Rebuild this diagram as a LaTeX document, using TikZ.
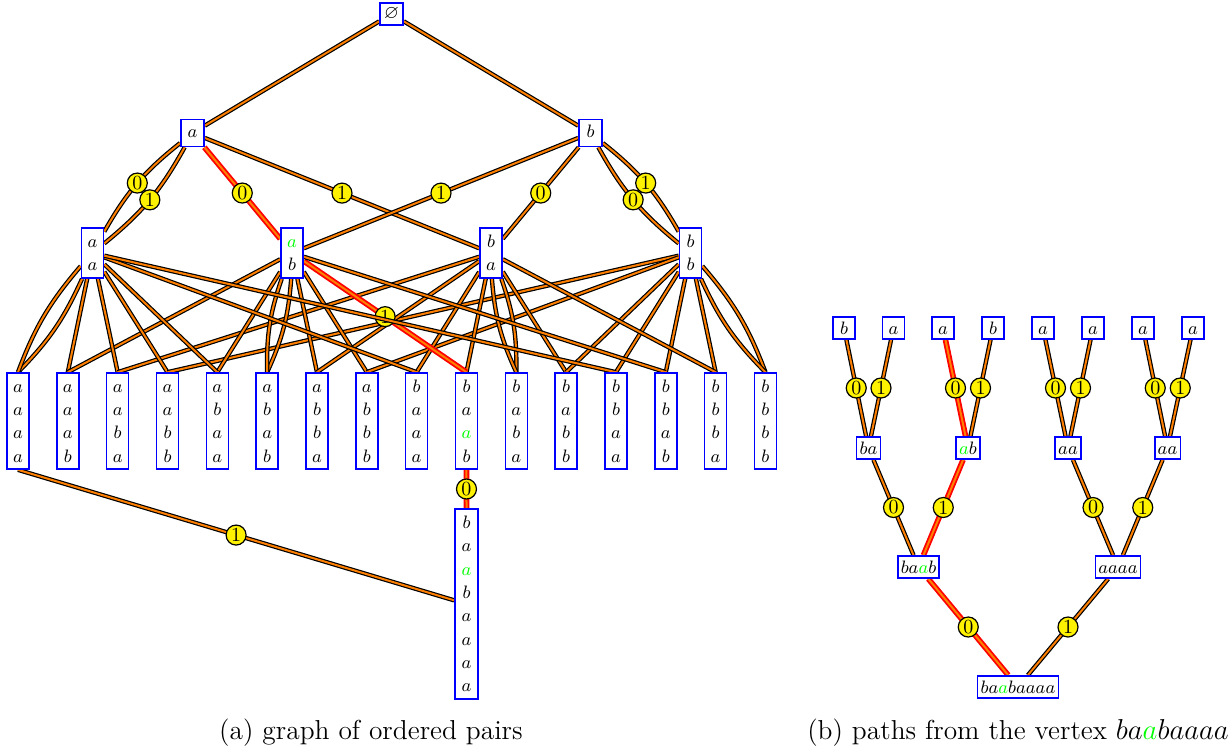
\documentclass[tikz,border=0pt]{standalone}
\usepackage{amssymb}
\pgfdeclarelayer{bg}
\pgfsetlayers{bg,main}
\newcommand\stL[1]{$\vphantom{b}#1$}
\newcommand\gA{\textcolor{green}{a}}
\begin{document}
\begin{tikzpicture}[x=0.5pt,y=-0.5pt,
  vx/.style={draw=blue, line width=0.8pt, fill=white, inner sep=0pt, minimum width=11pt,
    font=\fontsize{9.5}{11.67}\selectfont, align=center},
  rv/.style={draw=blue, line width=0.8pt, fill=white, inner xsep=1.5pt, inner ysep=0pt,
    minimum width=11pt, minimum height=11pt, text height=6.8pt, text depth=0pt,
    font=\fontsize{9.2}{11}\selectfont},
  ed/.style={draw=black, line width=0.6pt, double=orange, double distance=1pt},
  redge/.style={draw=red, line width=0.9pt, double=orange, double distance=1pt},
  lab/.style={circle, draw=black, fill=yellow, line width=0.6pt, inner sep=0pt,
    minimum size=10pt, font=\fontsize{10}{12}\selectfont},
  captxt/.style={anchor=base, font=\fontsize{13.7}{16}\selectfont}]
\useasboundingbox (0,0) rectangle (1232,751);
% ---------- (a) ----------
\node[vx, minimum height=11pt, minimum width=11.5pt] (e) at (391.5,14) {$\varnothing$};
\node[vx, minimum height=13.5pt, minimum width=11.5pt, text height=4.7pt, text depth=0pt] (a) at (192.5,133) {$a$};
\node[vx, minimum height=13.5pt, minimum width=11.5pt, text height=4.7pt, text depth=0pt] (b) at (590.5,133) {$b$};
\node[vx, minimum height=25pt] (aa) at (92.5,253) {\stL a\\\stL a};
\node[vx, minimum height=25pt] (ab) at (292,253) {\stL{\color{green}a}\\\stL b};
\node[vx, minimum height=25pt] (ba) at (491,253) {\stL b\\\stL a};
\node[vx, minimum height=25pt] (bb) at (690.5,253) {\stL b\\\stL b};
\tikzset{l3/.style={vx, minimum height=48pt}}
\node[l3] (aaaa) at (18,421) {\stL a\\\stL a\\\stL a\\\stL a};
\node[l3] (aaab) at (67.83,421) {\stL a\\\stL a\\\stL a\\\stL b};
\node[l3] (aaba) at (117.66,421) {\stL a\\\stL a\\\stL b\\\stL a};
\node[l3] (aabb) at (167.49,421) {\stL a\\\stL a\\\stL b\\\stL b};
\node[l3] (abaa) at (217.32,421) {\stL a\\\stL b\\\stL a\\\stL a};
\node[l3] (abab) at (267.15,421) {\stL a\\\stL b\\\stL a\\\stL b};
\node[l3] (abba) at (316.98,421) {\stL a\\\stL b\\\stL b\\\stL a};
\node[l3] (abbb) at (366.81,421) {\stL a\\\stL b\\\stL b\\\stL b};
\node[l3] (baaa) at (416.64,421) {\stL b\\\stL a\\\stL a\\\stL a};
\node[l3] (baab) at (466.47,421) {\stL b\\\stL a\\\stL{\color{green}a}\\\stL b};
\node[l3] (baba) at (516.3,421) {\stL b\\\stL a\\\stL b\\\stL a};
\node[l3] (babb) at (566.13,421) {\stL b\\\stL a\\\stL b\\\stL b};
\node[l3] (bbaa) at (615.96,421) {\stL b\\\stL b\\\stL a\\\stL a};
\node[l3] (bbab) at (665.79,421) {\stL b\\\stL b\\\stL a\\\stL b};
\node[l3] (bbba) at (715.62,421) {\stL b\\\stL b\\\stL b\\\stL a};
\node[l3] (bbbb) at (765.45,421) {\stL b\\\stL b\\\stL b\\\stL b};
\node[vx, minimum height=95pt, minimum width=11.5pt] (L4) at (466.5,604)
  {\stL b\\\stL a\\\stL{\color{green}a}\\\stL b\\\stL a\\\stL a\\\stL a\\\stL a};
\node[captxt] (capa) at (371,739) {(a) graph of ordered pairs};
% ---------- (b) ----------
\node[rv] (t1) at (844,328) {$b$};
\node[rv] (t2) at (893.5,328) {$a$};
\node[rv] (t3) at (943,328) {$a$};
\node[rv] (t4) at (993,328) {$b$};
\node[rv] (t5) at (1043,328) {$a$};
\node[rv] (t6) at (1093,328) {$a$};
\node[rv] (t7) at (1143,328) {$a$};
\node[rv] (t8) at (1193,328) {$a$};
\node[rv] (r1) at (868.5,448) {$ba$};
\node[rv] (r2) at (968,448) {$\gA b$};
\node[rv] (r3) at (1068,448) {$aa$};
\node[rv] (r4) at (1167.5,448) {$aa$};
\node[rv] (s1) at (918.5,567) {$ba\gA b$};
\node[rv] (s2) at (1118,567) {$aaaa$};
\node[rv] (root) at (1018,687) {$ba\gA baaaa$};
\node[captxt] (capb) at (1018,739) {(b) paths from the vertex $ba\gA baaaa$};
% ---------- edges ----------
\begin{pgfonlayer}{bg}
\draw[ed] (e) -- (a);
\draw[ed] (e) -- (b);
\draw[ed] (a) to[bend right=11] node[lab]{0} (aa);
\draw[ed] (a) to[bend left=11] node[lab]{1} (aa);
\draw[redge] (a) -- node[lab]{0} (ab);
\draw[ed] (a) -- node[lab]{1} (ba);
\draw[ed] (b) -- node[lab]{1} (ab);
\draw[ed] (b) -- node[lab]{0} (ba);
\draw[ed] (b) to[bend left=11] node[lab]{1} (bb);
\draw[ed] (b) to[bend right=11] node[lab]{0} (bb);
% level 2 -> level 3
\draw[ed] (aa) to[bend left=10] (aaaa.north);
\draw[ed] (aa) to[bend right=10] (aaaa.north);
\foreach \u/\v in {aa/ab,aa/ba,aa/bb,ab/aa}
  {\draw[ed] (\u) -- (\u\v.north); \draw[ed] (\v) -- (\u\v.north);}
\draw[ed] (ab) to[bend left=10] (abab.north);
\draw[ed] (ab) to[bend right=10] (abab.north);
\foreach \u/\v in {ab/ba,ab/bb,ba/aa}
  {\draw[ed] (\u) -- (\u\v.north); \draw[ed] (\v) -- (\u\v.north);}
\draw[ed] (ba) -- (baab.north);
\draw[redge] (ab) -- node[lab]{1} (baab.north);
\draw[ed] (ba) to[bend left=10] (baba.north);
\draw[ed] (ba) to[bend right=10] (baba.north);
\foreach \u/\v in {ba/bb,bb/aa,bb/ab,bb/ba}
  {\draw[ed] (\u) -- (\u\v.north); \draw[ed] (\v) -- (\u\v.north);}
\draw[ed] (bb) to[bend left=10] (bbbb.north);
\draw[ed] (bb) to[bend right=10] (bbbb.north);
% level 3 -> level 4
\draw[redge] (baab.south) -- node[lab]{0} (L4.north);
\draw[ed] (aaaa.south) -- node[lab]{1} (L4);
% (b)
\draw[ed] (r1) -- node[lab]{0} (t1);
\draw[ed] (r1) -- node[lab]{1} (t2);
\draw[redge] (r2) -- node[lab]{0} (t3);
\draw[ed] (r2) -- node[lab]{1} (t4);
\draw[ed] (r3) -- node[lab]{0} (t5);
\draw[ed] (r3) -- node[lab]{1} (t6);
\draw[ed] (r4) -- node[lab]{0} (t7);
\draw[ed] (r4) -- node[lab]{1} (t8);
\draw[ed] (s1) -- node[lab]{0} (r1);
\draw[redge] (s1) -- node[lab]{1} (r2);
\draw[ed] (s2) -- node[lab]{0} (r3);
\draw[ed] (s2) -- node[lab]{1} (r4);
\draw[redge] (root) -- node[lab]{0} (s1);
\draw[ed] (root) -- node[lab]{1} (s2);
\end{pgfonlayer}
\end{tikzpicture}
\end{document}
